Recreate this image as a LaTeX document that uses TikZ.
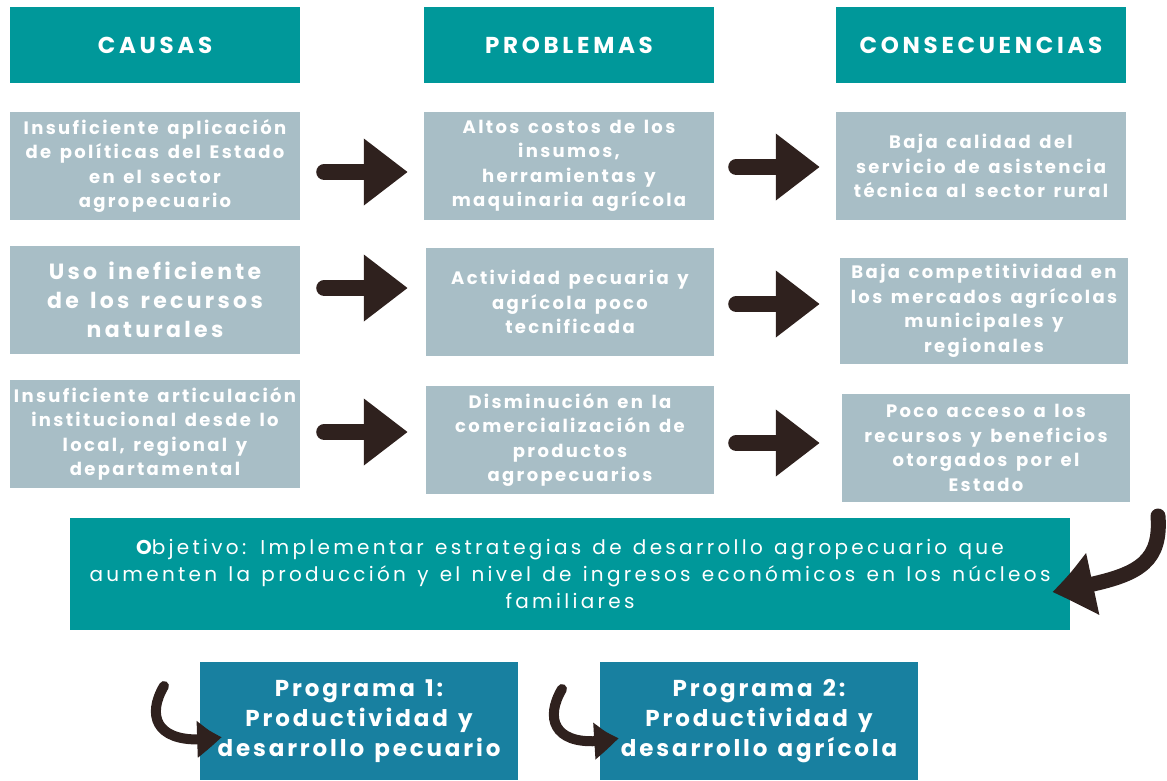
\documentclass[tikz,border=0pt]{standalone}
\usepackage{fontspec}
\setmainfont{Liberation Sans}
\newfontfamily\boxfont[LetterSpace=13,WordSpace=1.4]{Poppins}
\newfontfamily\bigboxfont[LetterSpace=15,WordSpace=1.4]{Poppins}
\newfontfamily\headfont[LetterSpace=16]{Poppins}
\newfontfamily\progfont[LetterSpace=12.5,WordSpace=1.3]{Poppins}
\newfontfamily\objfont[LetterSpace=16.5,WordSpace=1.3]{Poppins}
\usetikzlibrary{arrows.meta,calc,bending}
\definecolor{tealc}{RGB}{0,152,154}
\definecolor{grayc}{RGB}{168,190,198}
\definecolor{progc}{RGB}{24,128,160}
\definecolor{arrowc}{RGB}{47,33,30}
\tikzset{
  hbox/.style={fill=tealc, draw=none, minimum width=290pt, minimum height=76pt, inner sep=0pt, text=white, font=\headfont\bfseries\fontsize{23}{25}\selectfont},
  gbox/.style={fill=grayc, draw=none, minimum width=290pt, minimum height=108pt, inner sep=0pt, text=white, align=center, font=\boxfont\bfseries\fontsize{18}{24.5}\selectfont},
  objbox/.style={fill=tealc, draw=none, minimum width=1000pt, minimum height=112pt, inner sep=0pt, text=white, align=center, font=\objfont\fontsize{20}{27}\selectfont},
  pbox/.style={fill=progc, draw=none, minimum width=318pt, minimum height=118pt, inner sep=0pt, text=white, align=center, font=\progfont\bfseries\fontsize{23}{30}\selectfont},
  arr/.style={line width=16pt, draw=arrowc, line cap=round, -{Triangle[length=44pt,width=64pt]}},
  carr/.style={line width=15pt, draw=arrowc, line cap=round, -{Triangle[length=44pt,width=58pt,bend]}},
  sarr/.style={line width=10pt, draw=arrowc, line cap=round, -{Triangle[length=26pt,width=34pt,bend]}}
}
\begin{document}
\begin{tikzpicture}[x=1pt,y=-1pt]
\useasboundingbox (0,0) rectangle (1167,780);
% headers
\node[hbox] (hc) at (155,45) {CAUSAS};
\node[hbox] (hp) at (569,45) {PROBLEMAS};
\node[hbox] (hk) at (981,45) {CONSECUENCIAS};
% row 1
\node[gbox] (c1) at (155,166) {Insuficiente aplicación\\de políticas del Estado\\en el sector\\agropecuario};
\node[gbox] (p1) at (569,166) {Altos costos de los\\insumos,\\herramientas y\\maquinaria agrícola};
\node[gbox] (k1) at (981,166) {Baja calidad del\\servicio de asistencia\\técnica al sector rural};
% row 2
\node[gbox, font=\bigboxfont\bfseries\fontsize{22}{29}\selectfont] (c2) at (155,300) {Uso ineficiente\\de los recursos\\naturales};
\node[gbox, minimum width=288pt] (p2) at (570,302) {Actividad pecuaria y\\agrícola poco\\tecnificada};
\node[gbox, minimum width=288pt, minimum height=106pt] (k2) at (984,311) {Baja competitividad en\\los mercados agrícolas\\municipales y\\regionales};
% row 3
\node[gbox] (c3) at (155,434) {Insuficiente articulación\\institucional desde lo\\local, regional y\\departamental};
\node[gbox, minimum width=288pt] (p3) at (570,440) {Disminución en la\\comercialización de\\productos\\agropecuarios};
\node[gbox, minimum width=288pt] (k3) at (986,448) {Poco acceso a los\\recursos y beneficios\\otorgados por el\\Estado};
% objective
\node[objbox] (obj) at (570,574) {{\bfseries O}bjetivo: Implementar estrategias de desarrollo agropecuario que\\aumenten la producción y el nivel de ingresos económicos en los núcleos\\familiares};
% programs
\node[pbox] (g1) at (359,721) {Programa 1:\\Productividad y\\desarrollo pecuario};
\node[pbox] (g2) at (759,721) {Programa 2:\\Productividad y\\desarrollo agrícola};
% straight arrows
\draw[arr] ([xshift=24pt,yshift=-6pt]c1.east) -- ([xshift=-16pt,yshift=-6pt]c1.east -| p1.west);
\draw[arr] ([xshift=22pt,yshift=-1pt]p1.east) -- ([xshift=-16pt,yshift=-1pt]p1.east -| k1.west);
\draw[arr] ([xshift=24pt,yshift=12pt]c2.east) -- ([xshift=-18pt,yshift=12pt]c2.east -| p2.west);
\draw[arr] ([xshift=22pt,yshift=-2pt]p2.east) -- ([xshift=-20pt,yshift=-2pt]p2.east -| k2.west);
\draw[arr] ([xshift=24pt,yshift=2pt]c3.east) -- ([xshift=-18pt,yshift=2pt]c3.east -| p3.west);
\draw[arr] ([xshift=22pt,yshift=-3pt]p3.east) -- ([xshift=-22pt,yshift=-3pt]p3.east -| k3.west);
% curved arrows
\coordinate (s0) at (1158,516);
\draw[carr] (s0) .. controls (1162,570) and (1130,578) .. ($(obj.east)+(-18,18)$);
\coordinate (s1) at (164,686);
\draw[sarr] (s1) .. controls (144,720) and (160,748) .. ($(g1.west)+(22,16)$);
\coordinate (s2) at (562,689);
\draw[sarr] (s2) .. controls (542,723) and (558,751) .. ($(g2.west)+(19,17)$);
\end{tikzpicture}
\end{document}
